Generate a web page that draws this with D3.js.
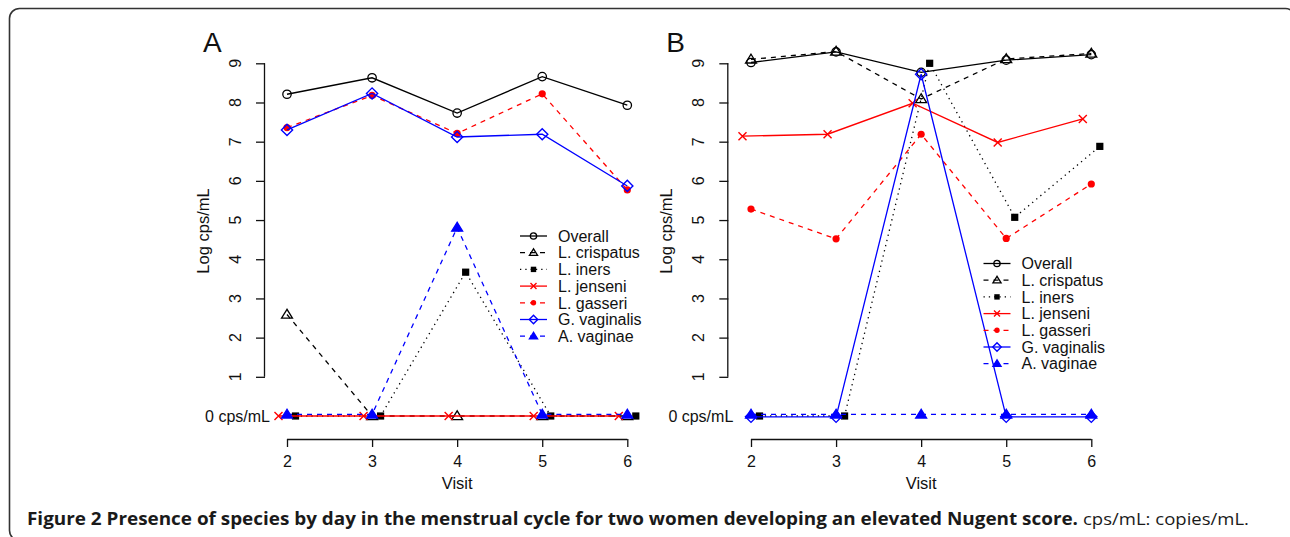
<!DOCTYPE html>
<html lang="en">
<head>
<meta charset="UTF-8">
<title>Presence of species by visit</title>
<script src="https://d3js.org/d3.v7.min.js"></script>
<style>
    body { margin: 0; background: #fff; }
    svg { display: block; }
    .plot text { font-family: "Liberation Sans", Arial, sans-serif; fill: #111; }
    .caption { font-family: "Open Sans", sans-serif; font-size: 17px; fill: #1a1a1a; }
</style>
</head>
<body>
<svg id="fig" width="1290" height="537"></svg>
<script>
    // data (log copies/mL per visit)
    const visits = [2, 3, 4, 5, 6];
    const yTicks = [1, 2, 3, 4, 5, 6, 7, 8, 9];
    const species = ["Overall", "L. crispatus", "L. iners", "L. jenseni", "L. gasseri", "G. vaginalis", "A. vaginae"];

    const overallA   = [8.21, 8.63, 7.73, 8.66, 7.93];
    const crispatusA = [2.59, 0, 0, 0, 0];
    const inersA     = [0, 0, 3.67, 0, 0];
    const jenseniA   = [0, 0, 0, 0, 0];
    const gasseriA   = [7.36, 8.18, 7.21, 8.22, 5.77];
    const vaginalisA = [7.30, 8.23, 7.12, 7.19, 5.87];
    const vaginaeA   = [0.04, 0.04, 4.81, 0.04, 0.04];

    const overallB   = [9.02, 9.29, 8.77, 9.08, 9.22];
    const crispatusB = [9.10, 9.30, 8.09, 9.11, 9.25];
    const inersB     = [0, 0, 9.0, 5.07, 6.88];
    const jenseniB   = [7.14, 7.19, 7.98, 6.98, 7.58];
    const gasseriB   = [5.28, 4.52, 7.19, 4.53, 5.92];
    const vaginalisB = [-0.02, -0.02, 8.72, -0.02, -0.02];
    const vaginaeB   = [0.04, 0.04, 0.04, 0.04, 0.04];

    const panelA = [overallA, crispatusA, inersA, jenseniA, gasseriA, vaginalisA, vaginaeA];
    const panelB = [overallB, crispatusB, inersB, jenseniB, gasseriB, vaginalisB, vaginaeB];

    // line / point style for each species, same order as `species`
    const styles = [
        {color: "#000", dash: null,    pch: "circle",  dx: 0},
        {color: "#000", dash: "5,5",   pch: "tri",     dx: 0},
        {color: "#000", dash: "1.3,4", pch: "square",  dx: 0.1},
        {color: "#f00", dash: null,    pch: "cross",   dx: -0.1},
        {color: "#f00", dash: "5,5",   pch: "dot",     dx: 0},
        {color: "#00f", dash: null,    pch: "diamond", dx: 0},
        {color: "#00f", dash: "5,5",   pch: "tritfill", dx: 0}
    ];

    const svg = d3.select("#fig");
    svg.append("rect").attr("width", 1290).attr("height", 537).attr("fill", "#fff");

    // frame
    svg.append("rect")
        .attr("x", 9.5).attr("y", 8.5)
        .attr("width", 1286).attr("height", 532)
        .attr("rx", 10).attr("ry", 10)
        .attr("fill", "none").attr("stroke", "#333").attr("stroke-width", 1.6);

    function drawMarker(g, type, x, y, color, s) {
        s = s || 1;
        if (type === "circle") {
            g.append("circle").attr("cx", x).attr("cy", y).attr("r", 4.2 * s)
                .attr("fill", "none").attr("stroke", color).attr("stroke-width", 1.3);
        } else if (type === "tri" || type === "tritfill") {
            const h = 5.2 * s;
            const pts = [[x, y - h], [x - h * 1.05, y + h * 0.7], [x + h * 1.05, y + h * 0.7]];
            g.append("path").attr("d", d3.line()(pts) + "Z")
                .attr("fill", type === "tri" ? "none" : color)
                .attr("stroke", color).attr("stroke-width", 1.3);
        } else if (type === "square") {
            const a = 3.6 * s;
            g.append("rect").attr("x", x - a).attr("y", y - a).attr("width", 2 * a).attr("height", 2 * a)
                .attr("fill", color);
        } else if (type === "cross") {
            const a = 4 * s;
            g.append("path").attr("d", `M${x - a},${y - a}L${x + a},${y + a}M${x - a},${y + a}L${x + a},${y - a}`)
                .attr("stroke", color).attr("stroke-width", 1.4).attr("fill", "none");
        } else if (type === "dot") {
            g.append("circle").attr("cx", x).attr("cy", y).attr("r", 3.6 * s).attr("fill", color);
        } else if (type === "diamond") {
            const a = 5.6 * s;
            g.append("path").attr("d", `M${x},${y - a}L${x + a},${y}L${x},${y + a}L${x - a},${y}Z`)
                .attr("fill", "none").attr("stroke", color).attr("stroke-width", 1.4);
        }
    }

    function drawPanel(opts) {
        const g = svg.append("g").attr("class", "plot");
        const x = d3.scaleLinear().domain([2, 6]).range([opts.x0, opts.x1]);
        const y = d3.scaleLinear().domain([0, 9]).range([416, 63.3]);

        // y axis (1..9), rotated labels like R
        const yAxis = g.append("g").attr("transform", `translate(${opts.axisX},0)`)
            .call(d3.axisLeft(y).tickValues(yTicks).tickSize(9).tickFormat(""));
        yAxis.select(".domain").attr("d", `M-0.5,${y(1)}V${y(9)}`);
        yAxis.selectAll("line, path").attr("stroke", "#111").attr("stroke-width", 1.3);
        g.selectAll(".ytl").data(yTicks).join("text")
            .attr("transform", d => `translate(${opts.axisX - 30},${y(d)}) rotate(-90)`)
            .attr("text-anchor", "middle").attr("dy", "0.35em")
            .attr("font-size", 16).text(d => d);
        g.append("text").attr("x", opts.axisX + 5).attr("y", y(0)).attr("dy", "0.35em")
            .attr("text-anchor", "end").attr("font-size", 16).text("0 cps/mL");

        // x axis
        const xAxis = g.append("g").attr("transform", "translate(0,439)")
            .call(d3.axisBottom(x).tickValues(visits).tickSize(8).tickPadding(9).tickFormat(d3.format("d")));
        xAxis.selectAll("line, path").attr("stroke", "#111").attr("stroke-width", 1.3);
        xAxis.select(".domain").attr("d", `M${x(2)},0.5H${x(6)}`);
        xAxis.selectAll("text").attr("font-size", 16).attr("font-family", "Liberation Sans, Arial, sans-serif").attr("fill", "#111");

        g.append("text").attr("x", (x(2) + x(6)) / 2).attr("y", 489)
            .attr("text-anchor", "middle").attr("font-size", 16.5).text("Visit");
        g.append("text")
            .attr("transform", `translate(${opts.axisX - 56},231) rotate(-90)`)
            .attr("text-anchor", "middle").attr("font-size", 16.5).text("Log cps/mL");
        g.append("text").attr("x", opts.axisX - 62).attr("y", 52)
            .attr("font-size", 28).text(opts.label);

        // series
        opts.data.forEach((vals, i) => {
            const st = styles[i];
            const pts = visits.map((v, j) => [x(v + st.dx), y(vals[j])]);
            g.append("path").attr("d", d3.line()(pts))
                .attr("fill", "none").attr("stroke", st.color).attr("stroke-width", 1.3)
                .attr("stroke-dasharray", st.dash);
            pts.forEach(p => drawMarker(g, st.pch, p[0], p[1], st.color));
        });

        // legend
        const lg = g.append("g");
        species.forEach((name, i) => {
            const st = styles[i];
            const ly = opts.legY + i * 16.7;
            lg.append("line").attr("x1", opts.legX).attr("x2", opts.legX + 27)
                .attr("y1", ly).attr("y2", ly)
                .attr("stroke", st.color).attr("stroke-width", 1.3).attr("stroke-dasharray", st.dash);
            drawMarker(lg, st.pch, opts.legX + 13.5, ly, st.color, 0.75);
            lg.append("text").attr("x", opts.legX + 38).attr("y", ly).attr("dy", "0.36em")
                .attr("font-size", 16).text(name);
        });
    }

    drawPanel({label: "A", data: panelA, axisX: 265, x0: 287, x1: 627.3, legX: 520, legY: 236});
    drawPanel({label: "B", data: panelB, axisX: 728.3, x0: 751, x1: 1091.3, legX: 983.5, legY: 263.5});

    // caption
    const cap = svg.append("text").attr("class", "caption").attr("x", 27).attr("y", 525);
    cap.append("tspan").attr("font-weight", "bold")
        .attr("textLength", 1051).attr("lengthAdjust", "spacingAndGlyphs")
        .text("Figure 2 Presence of species by day in the menstrual cycle for two women developing an elevated Nugent score.");
    cap.append("tspan").attr("dx", 5)
        .attr("textLength", 166).attr("lengthAdjust", "spacingAndGlyphs")
        .text("cps/mL: copies/mL.");
</script>
</body>
</html>
